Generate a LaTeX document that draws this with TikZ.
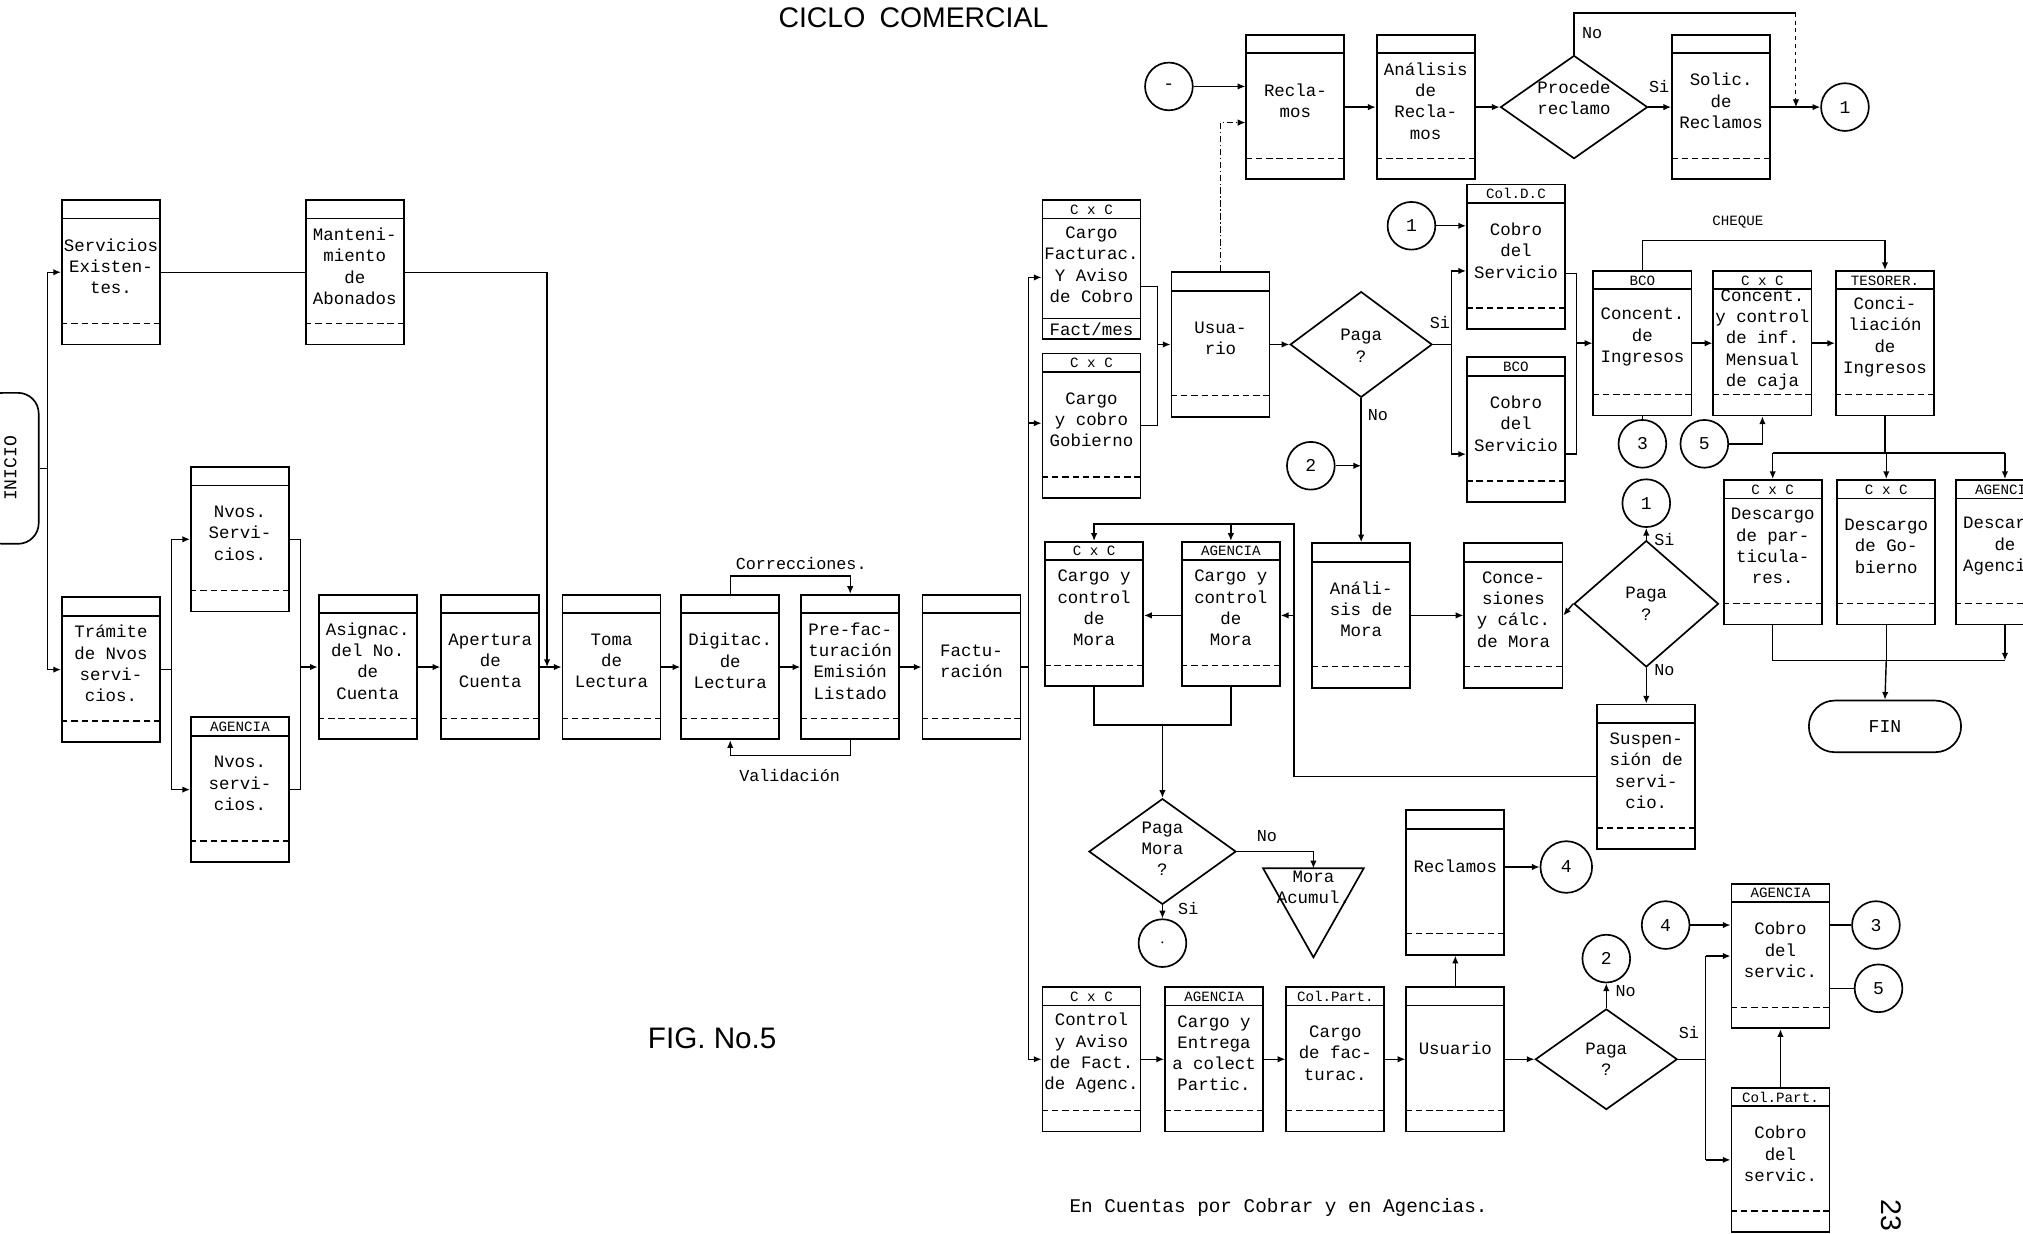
\documentclass[tikz,border=0pt]{standalone}
\usepackage{fontspec}
\setmainfont{Liberation Serif}
\setmonofont{Liberation Mono}
\newfontfamily\lettering{Liberation Sans}
\usetikzlibrary{arrows.meta,shapes.geometric,calc}

\tikzset{
  pbox/.style={draw, line width=1.4pt, minimum width=76pt, minimum height=112pt, inner sep=0pt},
  hdr/.style={font=\ttfamily\fontsize{11}{12}\selectfont, inner sep=0pt},
  body/.style={font=\ttfamily\fontsize{13.5}{16.5}\selectfont, align=center, inner sep=0pt},
  lbl/.style={font=\ttfamily\fontsize{13}{15}\selectfont, inner sep=1pt},
  conn/.style={line width=1.1pt},
  arr/.style={conn, -{Latex[length=6pt,width=5pt]}},
  circ/.style={draw, circle, line width=1.3pt, minimum size=37pt, inner sep=0pt, font=\ttfamily\fontsize{14}{16}\selectfont},
  dia/.style={draw, diamond, line width=1.3pt, inner sep=0pt},
  dashsep/.style={line width=1.1pt, dash pattern=on 5pt off 3pt}
}

\newcommand{\mkbox}[6][52]{%
  \node[pbox] (#2) at (#3+38,#4+56) {};
  \draw[line width=1.4pt] ([yshift=-15pt]#2.north west) -- ([yshift=-15pt]#2.north east);
  \draw[dashsep] ([yshift=17pt]#2.south west) -- ([yshift=17pt]#2.south east);
  \node[hdr] (#2-h) at ([yshift=-8pt]#2.north) {#5};
  \node[body] (#2-t) at ([yshift=-#1pt]#2.north) {#6};
}

\begin{document}
\begin{tikzpicture}[x=1pt,y=-1pt]
\useasboundingbox (0,0) rectangle (1568,956);
\fill[white] (0,0) rectangle (1568,956);

% ---------- titles ----------
\node[font=\lettering\fontsize{22}{26}\selectfont] (title) at (708,14) {CICLO\enspace COMERCIAL};
\node[font=\lettering\fontsize{23}{26}\selectfont] (fig) at (552,805) {FIG. No.5};
\node[font=\ttfamily\fontsize{15}{17}\selectfont] (cap) at (991,936) {En Cuentas por Cobrar y en Agencias.};
\node[font=\lettering\fontsize{22}{26}\selectfont, rotate=-90] (pg) at (1466,942) {23};

% ---------- left part ----------
\node[draw, line width=1.3pt, rounded corners=16pt, minimum width=117pt, minimum height=44pt,
      rotate=90, font=\ttfamily\fontsize{14}{16}\selectfont] (ini) at (8,363) {INICIO};

\mkbox{serv}{48}{155}{}{Servicios\\Existen-\\tes.}
\mkbox{mant}{237}{155}{}{Manteni-\\miento\\de\\Abonados}
\mkbox{tram}{48}{463}{}{Trámite\\de Nvos\\servi-\\cios.}
\mkbox{nvosa}{148}{362}{}{Nvos.\\Servi-\\cios.}
\mkbox{nvosb}{148}{556}{AGENCIA}{Nvos.\\servi-\\cios.}
\mkbox{asig}{247}{461}{}{Asignac.\\del No.\\de\\Cuenta}
\mkbox{aper}{342}{461}{}{Apertura\\de\\Cuenta}
\mkbox{toma}{436}{461}{}{Toma\\de\\Lectura}
\mkbox{digi}{528}{461}{}{Digitac.\\de\\Lectura}
\mkbox{pref}{621}{461}{}{Pre-fac-\\turación\\Emisión\\Listado}
\mkbox{fact}{715}{461}{}{Factu-\\ración}

\coordinate (bL1) at (37,211);
\coordinate (bL2) at (37,519);
\draw[conn] (ini.south) -- (ini.south -| bL1);
\draw[conn] (bL1) -- (bL2);
\draw[arr] (bL1) -- (serv.west);
\draw[arr] (bL2) -- (tram.west);
\draw[conn] (serv.east) -- (mant.west);
\coordinate (mR) at (424,211);
\draw[arr] (mant.east) -- (mR) -- (mR |- toma.west);

\coordinate (nT) at (133,418);
\coordinate (nB) at (133,612);
\draw[conn] (tram.east) -- (tram.east -| nT);
\draw[conn] (nT) -- (nB);
\draw[arr] (nT) -- (nvosa.west);
\draw[arr] (nB) -- (nvosb.west);
\coordinate (aT) at (233,418);
\coordinate (aB) at (233,612);
\draw[conn] (nvosa.east) -- (aT) -- (aB) -- (nvosb.east);
\draw[arr] (aT |- asig.west) -- (asig.west);

\draw[arr] (asig.east) -- (aper.west);
\draw[arr] (aper.east) -- (toma.west);
\draw[arr] (toma.east) -- (digi.west);
\draw[arr] (digi.east) -- (pref.west);
\draw[arr] (pref.east) -- (fact.west);

\draw[arr] (digi.north) -- ++(0,-14) -| (pref.north);
\node[lbl] (corr) at (621,437) {Correcciones.};
\draw[arr] (pref.south) -- ++(0,12) -| (digi.south);
\node[lbl] (vali) at (612,601) {Validación};

% ---------- main bus ----------
\coordinate (bT) at (797,215);
\coordinate (bM) at (797,328);
\coordinate (bB) at (797,821);
\draw[conn] (bT) -- (bB);
\draw[conn] (fact.east) -- (fact.east -| bT);

% ---------- upper right ----------
\node[pbox, minimum height=108pt] (cxca) at (846,209) {};
\draw[line width=1.4pt] ([yshift=-15pt]cxca.north west) -- ([yshift=-15pt]cxca.north east);
\draw[line width=1.1pt] ([yshift=17pt]cxca.south west) -- ([yshift=17pt]cxca.south east);
\node[hdr] (cxca-h) at ([yshift=-8pt]cxca.north) {C x C};
\node[body] (cxca-t) at ([yshift=-51pt]cxca.north) {Cargo\\Facturac.\\Y Aviso\\de Cobro};
\node[body] (cxca-b) at ([yshift=8.5pt]cxca.south) {Fact/mes};

\mkbox{cxcb}{808}{274}{C x C}{Cargo\\y cobro\\Gobierno}
\mkbox{usua}{908}{211}{}{Usua-\\rio}
\mkbox{recla}{966}{27}{}{Recla-\\mos}
\mkbox{anre}{1067}{27}{}{Análisis\\de\\Recla-\\mos}
\mkbox{solic}{1296}{27}{}{Solic.\\de\\Reclamos}
\mkbox{cdc}{1137}{143}{Col.D.C}{Cobro\\del\\Servicio}
\mkbox{bcoa}{1137}{277}{BCO}{Cobro\\del\\Servicio}
\mkbox{bcob}{1235}{210}{BCO}{Concent.\\de\\Ingresos}
\mkbox[54]{cxcc}{1328}{210}{C x C}{Concent.\\y control\\de inf.\\Mensual\\de caja}
\mkbox{teso}{1423}{210}{TESORER.}{Conci-\\liación\\de\\Ingresos}
\mkbox{desa}{1336}{372}{C x C}{Descargo\\de par-\\ticula-\\res.}
\mkbox{desb}{1424}{372}{C x C}{Descargo\\de Go-\\bierno}
\mkbox{desc}{1516}{372}{AGENCIA}{Descargo\\de\\Agencias}

\node[circ] (cm) at (906,67) {-};
\node[circ] (c1) at (1430,83) {1};
\node[circ] (c1b) at (1094,175) {1};
\node[circ] (c2) at (1016,361) {2};
\node[circ] (c3) at (1273,344) {3};
\node[circ] (c5) at (1321,344) {5};

\node[dia, minimum width=114pt, minimum height=80pt] (proc) at (1220,83) {};
\node[body] (proc-t) at (1220,76) {Procede\\reclamo};
\node[dia, minimum width=110pt, minimum height=82pt] (pagaa) at (1055,267) {};
\node[body] (pagaa-t) at (1055,268) {Paga\\?};

\node[draw, line width=1.3pt, rounded corners=20pt, minimum width=118pt, minimum height=40pt,
      font=\ttfamily\fontsize{14}{16}\selectfont] (fin) at (1461,563) {FIN};

\draw[arr] (bT) -- (bT -| cxca.west);
\draw[arr] (bM) -- (bM -| cxcb.west);
\coordinate (uT) at (897,222);
\coordinate (uB) at (897,330);
\draw[conn] (uT -| cxca.east) -- (uT) -- (uB) -- (uB -| cxcb.east);
\draw[arr] (uT |- usua.west) -- (usua.west);
\draw[arr, line width=0.8pt, dash pattern=on 5pt off 2pt on 1pt off 2pt] (usua.north) |- ([yshift=-12pt]recla.west);
\draw[arr] (cm.east) -- (cm.east -| recla.west);
\draw[arr] (recla.east) -- (anre.west);
\draw[arr] (anre.east) -- (proc.west);
\draw[arr] (proc.east) -- (solic.west);
\node[lbl] (siP) at (1286,67) {Si};
\draw[arr] (solic.east) -- (c1.west);
\coordinate (noT) at (1392,10);
\draw[conn] (proc.north) |- (noT);
\draw[arr, line width=0.8pt, dashed] (noT) -- (noT |- c1.west);
\node[lbl] (noP) at (1234,26) {No};

\draw[arr] (usua.east) -- (pagaa.west);
\coordinate (siT) at (1125,210);
\coordinate (siB) at (1125,352);
\draw[conn] (pagaa.east) -- (pagaa.east -| siT);
\draw[conn] (siT) -- (siB);
\draw[arr] (siT) -- (siT -| cdc.west);
\draw[arr] (siB) -- (siB -| bcoa.west);
\node[lbl] (siA) at (1116,250) {Si};
\draw[arr] (c1b.east) -- (c1b.east -| cdc.west);
\coordinate (rT) at (1222,212);
\coordinate (rB) at (1222,352);
\draw[conn] (rT -| cdc.east) -- (rT) -- (rB) -- (rB -| bcoa.east);
\draw[arr] (rT |- bcob.west) -- (bcob.west);
\draw[arr] (bcob.east) -- (cxcc.west);
\draw[arr] (cxcc.east) -- (teso.west);
\draw[arr] (bcob.north) -- ++(0,-23) -| (teso.north);
\node[lbl, font=\ttfamily\fontsize{11}{13}\selectfont] (cheq) at (1347,172) {CHEQUE};
\draw[conn] (bcob.south) -- (c3.north);
\draw[arr] (c5.east) -| (cxcc.south);

\coordinate (tB) at (1461,351);
\draw[conn] (teso.south) -- (tB);
\draw[conn] (tB -| desa.north) -- (tB -| desc.north);
\draw[arr] (tB -| desa.north) -- (desa.north);
\draw[arr] (tB -| desb.north) -- (desb.north);
\draw[arr] (tB -| desc.north) -- (desc.north);
\coordinate (fB) at (1462,512);
\draw[conn] (desa.south) -- (desa.south |- fB) -- (fB -| desc.south);
\draw[arr] (desc.south) -- (desc.south |- fB);
\draw[conn] (desb.south) -- (fB);
\draw[arr] (fB) -- (fin.north);

% ---------- mora section ----------
\mkbox{anmo}{1017}{421}{}{Análi-\\sis de\\Mora}
\mkbox{conc}{1135}{421}{}{Conce-\\siones\\y cálc.\\de Mora}
\mkbox{susp}{1238}{546}{}{Suspen-\\sión de\\servi-\\cio.}
\mkbox{cxcm}{810}{420}{C x C}{Cargo y\\control\\de\\Mora}
\mkbox{agm}{916}{420}{AGENCIA}{Cargo y\\control\\de\\Mora}

\node[dia, minimum width=112pt, minimum height=98pt] (pagab) at (1276,468) {};
\node[body] (pagab-t) at (1276,468) {Paga\\?};
\node[circ] (c1c) at (1276,390) {1};

\draw[arr] (pagaa.south) -- (anmo.north);
\node[lbl] (noA) at (1068,322) {No};
\draw[arr] (c2.east) -- (c2.east -| anmo.north);
\draw[arr] (anmo.east) -- (conc.west);
\draw[arr] (pagab.west) -- (conc.east);
\draw[arr] (pagab.north) -- (c1c.south);
\node[lbl] (siB2) at (1290,418) {Si};
\draw[arr] (pagab.south) -- (susp.north);
\node[lbl] (noB) at (1290,519) {No};

\coordinate (sL) at (1003,602);
\coordinate (sT) at (1003,406);
\coordinate (sM) at (1003,477);
\draw[arr] (susp.west) -- (sL) -- (sT) -| (cxcm.north);
\draw[arr] (sT -| agm.north) -- (agm.north);
\draw[arr] (sM) -- (sM -| agm.east);
\draw[arr] (agm.west |- sM) -- (sM -| cxcm.east);

\node[dia, minimum width=114pt, minimum height=82pt] (pagam) at (901,660) {};
\node[body] (pagam-t) at (901,658) {Paga\\Mora\\?};
\node[circ] (cdot) at (901,731) {$\cdot$};
\coordinate (mJ) at (901,562);
\draw[conn] (cxcm.south) |- (mJ);
\draw[conn] (agm.south) |- (mJ);
\draw[arr] (mJ) -- (pagam.north);

\coordinate (tri) at (1018,673);
\draw[line width=1.3pt] (979,673) -- (1057,673) -- (1018,742) -- cycle;
\node[body] (tri-t) at (1018,688) {Mora\\Acumul.};
\draw[arr] (pagam.east) -| (tri);
\node[lbl] (noM) at (982,648) {No};
\draw[arr] (pagam.south) -- (cdot.north);
\node[lbl] (siM) at (921,704) {Si};

% ---------- bottom row ----------
\mkbox{ctrl}{808}{765}{C x C}{Control\\y Aviso\\de Fact.\\de Agenc.}
\mkbox{agce}{903}{765}{AGENCIA}{Cargo y\\Entrega\\a colect\\Partic.}
\mkbox{colp}{997}{765}{Col.Part.}{Cargo\\de fac-\\turac.}
\mkbox[48]{usub}{1090}{765}{}{Usuario}
\mkbox[44]{recb}{1090}{628}{}{Reclamos}
\mkbox{agcb}{1342}{685}{AGENCIA}{Cobro\\del\\servic.}
\mkbox{colpc}{1342}{843}{Col.Part.}{Cobro\\del\\servic.}

\node[circ, minimum size=40pt] (c4) at (1214,672) {4};
\node[dia, minimum width=110pt, minimum height=78pt] (pagac) at (1245,821) {};
\node[body] (pagac-t) at (1245,821) {Paga\\?};
\node[circ] (c2b) at (1245,743) {2};
\node[circ] (c4b) at (1291,717) {4};
\node[circ] (c3b) at (1454,717) {3};
\node[circ] (c5b) at (1456,766) {5};

\draw[arr] (bB) -- (ctrl.west);
\draw[arr] (ctrl.east) -- (agce.west);
\draw[arr] (agce.east) -- (colp.west);
\draw[arr] (colp.east) -- (usub.west);
\draw[arr] (usub.north) -- (recb.south);
\draw[arr] (c4.west -| recb.east) -- (c4.west);
\draw[arr] (usub.east) -- (pagac.west);
\draw[arr] (pagac.north) -- (c2b.south);
\node[lbl] (noC) at (1260,768) {No};
\coordinate (pT) at (1322,741);
\coordinate (pB) at (1322,899);
\draw[conn] (pagac.east) -- (pagac.east -| pT);
\draw[conn] (pT) -- (pB);
\draw[arr] (pT) -- (agcb.west);
\draw[arr] (pB) -- (colpc.west);
\node[lbl] (siC) at (1309,800) {Si};
\draw[arr] (c4b.east) -- (c4b.east -| agcb.west);
\draw[conn] (c3b.west -| agcb.east) -- (c3b.west);
\draw[conn] (c5b.west -| agcb.east) -- (c5b.west);
\draw[arr] (colpc.north) -- (agcb.south);

\end{tikzpicture}
\end{document}
